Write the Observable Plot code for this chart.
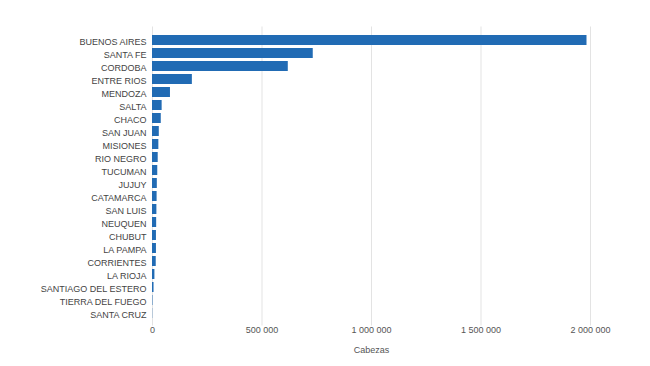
<!DOCTYPE html>
<html>
<head>
<meta charset="utf-8">
<script src="https://cdn.jsdelivr.net/npm/d3@7"></script>
<script src="https://cdn.jsdelivr.net/npm/@observablehq/plot@0.6"></script>
<style>
  html, body { margin: 0; padding: 0; background: #fff; }
  #chart svg { display: block; }
</style>
</head>
<body>
<div id="chart"></div>
<script>
const provincias = ["BUENOS AIRES","SANTA FE","CORDOBA","ENTRE RIOS","MENDOZA","SALTA","CHACO","SAN JUAN","MISIONES","RIO NEGRO","TUCUMAN","JUJUY","CATAMARCA","SAN LUIS","NEUQUEN","CHUBUT","LA PAMPA","CORRIENTES","LA RIOJA","SANTIAGO DEL ESTERO","TIERRA DEL FUEGO","SANTA CRUZ"];
const cabezas = [1984000, 734000, 620000, 182000, 82000, 44000, 40000, 31000, 29000, 26000, 24000, 22000, 21000, 20000, 19000, 18000, 18000, 17000, 11000, 7000, 2000, 1000];
const xTicks = [0, 500000, 1000000, 1500000, 2000000];
const xLabel = "Cabezas";

const data = provincias.map((p, i) => ({provincia: p, cabezas: cabezas[i]}));
const fmt = d3.formatLocale({decimal: ",", thousands: " ", grouping: [3], currency: ["", ""]}).format(",");

const chart = Plot.plot({
  width: 650,
  height: 366,
  marginTop: 26.5,
  marginBottom: 40.5,
  marginLeft: 152,
  marginRight: 60,
  style: {fontFamily: "Arial, 'Liberation Sans', sans-serif", fontSize: "9px", color: "#555", background: "#fff"},
  x: {domain: [0, 2000000], ticks: xTicks, tickFormat: fmt, label: null},
  y: {domain: provincias, padding: 0.26, label: null},
  marks: [
    Plot.gridX(xTicks, {stroke: "#e3e3e3", strokeOpacity: 1}),
    Plot.barX(data, {x: "cabezas", y: "provincia", fill: "#216bb4"}),
    Plot.axisX({ticks: xTicks, tickFormat: fmt, tickSize: 0, tickPadding: 1, fill: "#555", label: xLabel, labelAnchor: "center", labelArrow: "none", labelOffset: 26.5}),
    Plot.axisY({tickSize: 0, tickPadding: 6, dy: 2, fill: "#444", label: null})
  ]
});
document.getElementById("chart").appendChild(chart);
</script>
</body>
</html>
